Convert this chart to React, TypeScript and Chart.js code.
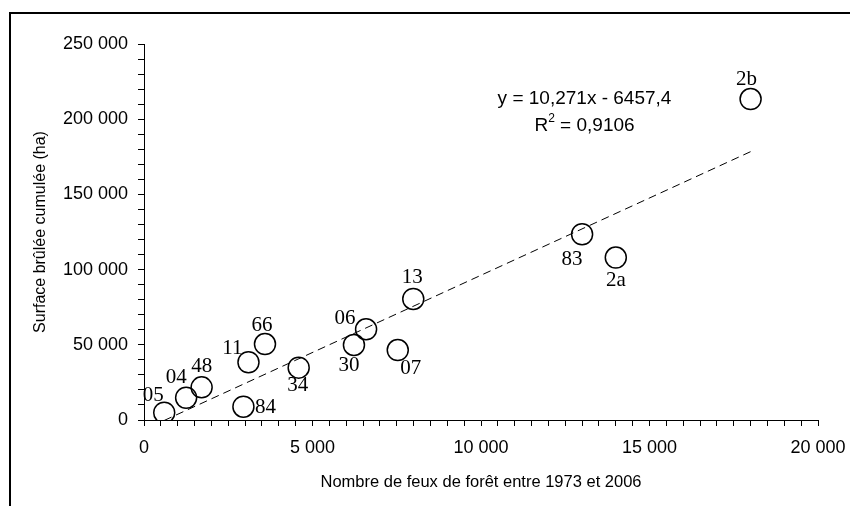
import React, { useEffect, useRef } from "react";
import { Chart, registerables } from "chart.js";

Chart.register(...registerables);

// Departments (point labels)
const departments = ["05", "04", "48", "84", "11", "66", "34", "30", "06", "07", "13", "83", "2a", "2b"];
// Number of forest fires 1973-2006
const fireCounts = [600, 1250, 1710, 2950, 3100, 3590, 4590, 6230, 6590, 7530, 7990, 13000, 14000, 18000];
// Cumulated burned surface (ha)
const burnedArea = [4850, 14800, 21700, 8850, 38400, 50500, 34800, 49900, 60300, 46500, 80500, 123500, 108000, 213400];

// Linear trendline reported on the chart
const trendSlope = 10.271;
const trendIntercept = -6457.4;
const equationLine = "y = 10,271x - 6457,4";
const r2Value = "0,9106";

// Axis settings
const xMin = 0, xMax = 20000, xMinorStep = 500, xMajorStep = 5000;
const yMin = 0, yMax = 250000, yMinorStep = 10000, yMajorStep = 50000;
const xTitle = "Nombre de feux de forêt entre 1973 et 2006";
const yTitle = "Surface brûlée cumulée (ha)";

// Label placement (pixel offsets from the marker centre) – style only
const labelOffsets: [number, number][] = [
  [-11, -17], [-10, -20], [0, -21], [22, 1], [-16, -14], [-3, -19], [-1, 18],
  [-5, 21], [-21, -11], [13, 18], [-1, -21], [-10, 25], [0, 23], [-4, -20],
];

const SANS = "'Liberation Sans', Arial, sans-serif";
const SERIF = "'Liberation Serif', 'Times New Roman', serif";

const fmt = (v: number) => {
  const s = Math.round(v).toString();
  return s.replace(/\B(?=(\d{3})+(?!\d))/g, " ");
};

export default function App() {
  const ref = useRef<HTMLCanvasElement | null>(null);

  useEffect(() => {
    if (!ref.current) return;
    const pts = fireCounts.map((x, i) => ({ x, y: burnedArea[i] }));
    const tMin = Math.min(...fireCounts);
    const tMax = Math.max(...fireCounts);
    const trend = [
      { x: tMin, y: trendSlope * tMin + trendIntercept },
      { x: tMax, y: trendSlope * tMax + trendIntercept },
    ];

    const framePlugin = {
      id: "frame",
      beforeDraw(chart: any) {
        const ctx = chart.ctx;
        ctx.save();
        ctx.fillStyle = "#ffffff";
        ctx.fillRect(0, 0, chart.width, chart.height);
        ctx.strokeStyle = "#000";
        ctx.lineWidth = 2;
        ctx.strokeRect(10, 13, chart.width + 50, chart.height + 50);
        ctx.restore();
      },
    };

    const labelPlugin = {
      id: "labels",
      afterDraw(chart: any) {
        const ctx = chart.ctx;
        const xs = chart.scales.x;
        const ys = chart.scales.y;
        ctx.save();
        ctx.fillStyle = "#000";
        ctx.font = `21px ${SERIF}`;
        ctx.textAlign = "center";
        ctx.textBaseline = "middle";
        departments.forEach((d, i) => {
          const px = xs.getPixelForValue(fireCounts[i]);
          const py = ys.getPixelForValue(burnedArea[i]);
          const [dx, dy] = labelOffsets[i];
          ctx.fillText(d, px + dx, py + dy);
        });

        // equation
        const cx = 584.5;
        const cy1 = 99;
        const cy2 = 126;
        ctx.font = `19px ${SANS}`;
        ctx.fillText(equationLine, cx, cy1);
        const wR = ctx.measureText("R").width;
        const rest = " = " + r2Value;
        const wRest = ctx.measureText(rest).width;
        ctx.font = `12px ${SANS}`;
        const wSup = ctx.measureText("2").width;
        const total = wR + wSup + wRest;
        let sx = cx - total / 2;
        ctx.textAlign = "left";
        ctx.font = `19px ${SANS}`;
        ctx.fillText("R", sx, cy2);
        sx += wR;
        ctx.font = `12px ${SANS}`;
        ctx.fillText("2", sx, cy2 - 7);
        sx += wSup;
        ctx.font = `19px ${SANS}`;
        ctx.fillText(rest, sx, cy2);
        ctx.restore();
      },
    };

    const chart = new Chart(ref.current, {
      type: "scatter",
      data: {
        datasets: [
          {
            label: "points",
            data: pts,
            showLine: false,
            pointStyle: "circle",
            pointRadius: 10.5,
            pointHoverRadius: 10.5,
            pointBorderWidth: 1.5,
            borderColor: "#000",
            backgroundColor: "rgba(0,0,0,0)",
            pointBackgroundColor: "rgba(0,0,0,0)",
          },
          {
            label: "trend",
            data: trend,
            showLine: true,
            borderColor: "#000",
            borderWidth: 1,
            borderDash: [8, 5],
            pointRadius: 0,
            fill: false,
          },
        ],
      },
      options: {
        animation: false,
        responsive: false,
        devicePixelRatio: 1,
        events: [],
        layout: { padding: { left: 0, right: 32, top: 44, bottom: 0 } },
        plugins: {
          legend: { display: false },
          tooltip: { enabled: false },
          title: { display: false },
        },
        scales: {
          x: {
            type: "linear",
            position: "bottom",
            min: xMin,
            max: xMax,
            afterFit: (s: any) => {
              s.height = 86;
              s.paddingLeft = 0;
              s.paddingRight = 0;
            },
            border: { display: true, color: "#000", width: 1 },
            grid: { drawOnChartArea: false, drawTicks: true, tickLength: 6, color: "#000", lineWidth: 1 },
            ticks: {
              stepSize: xMinorStep,
              autoSkip: false,
              maxRotation: 0,
              padding: 11.5,
              color: "#000",
              font: { family: SANS, size: 18 },
              callback: (v: any) => (Number(v) % xMajorStep === 0 ? fmt(Number(v)) : ""),
            },
            title: {
              display: true,
              text: xTitle,
              color: "#000",
              font: { family: SANS, size: 16.5 },
              padding: { top: 0, bottom: 14 },
            },
          },
          y: {
            type: "linear",
            min: yMin,
            max: yMax,
            afterFit: (s: any) => {
              s.width = 144;
              s.paddingTop = 0;
              s.paddingBottom = 0;
            },
            border: { display: true, color: "#000", width: 1 },
            grid: { drawOnChartArea: false, drawTicks: true, tickLength: 6, color: "#000", lineWidth: 1 },
            ticks: {
              stepSize: yMinorStep,
              autoSkip: false,
              padding: 10,
              color: "#000",
              font: { family: SANS, size: 18 },
              callback: (v: any) => (Number(v) % yMajorStep === 0 ? fmt(Number(v)) : ""),
            },
            title: {
              display: true,
              text: yTitle,
              color: "#000",
              font: { family: SANS, size: 16 },
              padding: { top: 31, bottom: 0 },
            },
          },
        },
      },
      plugins: [framePlugin, labelPlugin],
    } as any);

    return () => chart.destroy();
  }, []);

  return (
    <div style={{ position: "absolute", left: 0, top: 0, width: 850, height: 506 }}>
      <canvas ref={ref} width={850} height={506} style={{ display: "block", width: 850, height: 506 }} />
    </div>
  );
}
